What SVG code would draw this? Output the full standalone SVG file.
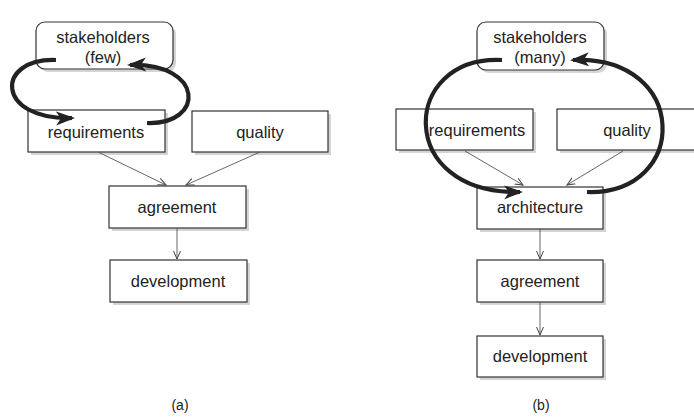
<svg xmlns="http://www.w3.org/2000/svg" width="694" height="418" viewBox="0 0 694 418">
<style>
.box{fill:#fff;stroke:#333;stroke-width:1.2}
.sh{fill:#d4d4d4}
.t{font-family:"Liberation Sans",Arial,sans-serif;font-size:16.5px;fill:#222;text-anchor:middle}
.thin{stroke:#555;stroke-width:0.9;fill:none}
.thick{stroke:#222;stroke-width:4.2;fill:none}
</style>
<defs>
<marker id="v" markerWidth="10" markerHeight="10" refX="8" refY="4" orient="auto" markerUnits="userSpaceOnUse">
<path d="M0,0.5 L8,4 L0,7.5" fill="none" stroke="#444" stroke-width="1"/>
</marker>
<marker id="big" markerWidth="22" markerHeight="16" refX="16" refY="7" orient="auto" markerUnits="userSpaceOnUse">
<path d="M0,0 L19,7 L0,14 L5,7 Z" fill="#222"/>
</marker>
</defs>

<g id="a-stakeholders">
<rect class="sh" x="39" y="25" width="137" height="47" rx="9"/>
<rect class="box" x="36" y="22" width="137" height="47" rx="9"/>
<text class="t" x="103" y="43">stakeholders</text>
<text class="t" x="103" y="63">(few)</text>
</g>
<g id="a-requirements">
<rect class="sh" x="31" y="113" width="137" height="42"/>
<rect class="box" x="28" y="110" width="137" height="42"/>
<text class="t" x="96" y="138">requirements</text>
</g>
<g id="a-quality">
<rect class="sh" x="195" y="114" width="136" height="41"/>
<rect class="box" x="192" y="111" width="136" height="41"/>
<text class="t" x="260" y="138">quality</text>
</g>
<g id="a-agreement">
<rect class="sh" x="112" y="189" width="137" height="42"/>
<rect class="box" x="109" y="186" width="137" height="42"/>
<text class="t" x="177" y="213">agreement</text>
</g>
<g id="a-development">
<rect class="sh" x="113" y="263" width="137" height="42"/>
<rect class="box" x="110" y="260" width="137" height="42"/>
<text class="t" x="178" y="287">development</text>
</g>

<g id="b-stakeholders">
<rect class="sh" x="480" y="25" width="127" height="48" rx="9"/>
<rect class="box" x="477" y="22" width="127" height="48" rx="9"/>
<text class="t" x="540" y="43">stakeholders</text>
<text class="t" x="540" y="63">(many)</text>
</g>
<g id="b-requirements">
<rect class="sh" x="399" y="112" width="137" height="41"/>
<rect class="box" x="396" y="109" width="137" height="41"/>
<text class="t" x="477" y="136">requirements</text>
</g>
<g id="b-quality">
<rect class="sh" x="560" y="112" width="140" height="41"/>
<rect class="box" x="557" y="109" width="140" height="41"/>
<text class="t" x="627" y="136">quality</text>
</g>
<g id="b-architecture">
<rect class="sh" x="480" y="190" width="126" height="42"/>
<rect class="box" x="477" y="187" width="126" height="42"/>
<text class="t" x="540" y="213">architecture</text>
</g>
<g id="b-agreement">
<rect class="sh" x="480" y="263" width="126" height="42"/>
<rect class="box" x="477" y="260" width="126" height="42"/>
<text class="t" x="540" y="287">agreement</text>
</g>
<g id="b-development">
<rect class="sh" x="480" y="339" width="126" height="41"/>
<rect class="box" x="477" y="336" width="126" height="41"/>
<text class="t" x="540" y="362">development</text>
</g>

<g id="connectors">
<line class="thin" x1="98" y1="152" x2="166" y2="185" marker-end="url(#v)"/>
<line class="thin" x1="260" y1="152" x2="186" y2="185" marker-end="url(#v)"/>
<line class="thin" x1="177" y1="228" x2="177" y2="259" marker-end="url(#v)"/>
<path class="thick" d="M56,60 C -5,58 -5,120 72,118" marker-end="url(#big)"/>
<path class="thick" d="M147,123 C 205,125 205,63 130,65" marker-end="url(#big)"/>

<line class="thin" x1="465" y1="151" x2="523" y2="185" marker-end="url(#v)"/>
<line class="thin" x1="623" y1="151" x2="567" y2="185" marker-end="url(#v)"/>
<line class="thin" x1="540" y1="229" x2="540" y2="259" marker-end="url(#v)"/>
<line class="thin" x1="540" y1="302" x2="540" y2="335" marker-end="url(#v)"/>
<path class="thick" d="M502,60 C 400,55 395,195 520,192" marker-end="url(#big)"/>
<path class="thick" d="M587,192 C 690,195 690,55 573,60" marker-end="url(#big)"/>
</g>

<text class="t" x="180" y="410" style="font-size:14px">(a)</text>
<text class="t" x="541" y="410" style="font-size:14px">(b)</text>
</svg>
